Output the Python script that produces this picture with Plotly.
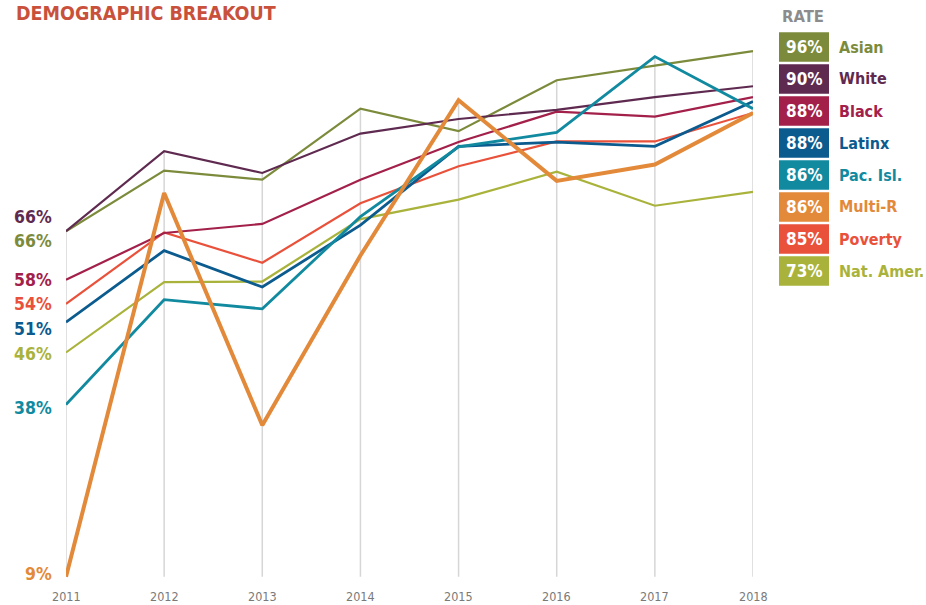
import plotly.graph_objects as go

years = [2011, 2012, 2013, 2014, 2015, 2016, 2017, 2018]

asian = [66, 76.0, 74.5, 86.2, 82.5, 90.9, 93.3, 95.7]
white = [66, 79.2, 75.6, 82.1, 84.5, 86.0, 88.1, 89.9]
black = [58, 65.7, 67.2, 74.5, 80.7, 85.7, 84.9, 88.1]
latinx = [51, 62.8, 56.8, 67.0, 80.0, 80.7, 80.0, 87.4]
pac_isl = [37.4, 54.7, 53.2, 68.4, 79.9, 82.3, 94.8, 86.2]
multi_r = [9, 72.3, 34.0, 62.0, 87.6, 74.3, 77.0, 85.5]
poverty = [54, 65.8, 60.8, 70.6, 76.7, 80.8, 80.8, 85.5]
nat_amer = [46, 57.6, 57.7, 68.0, 71.2, 75.8, 70.2, 72.5]

names = ["Asian", "White", "Black", "Latinx", "Pac. Isl.", "Multi-R", "Poverty", "Nat. Amer."]
series = [asian, white, black, latinx, pac_isl, multi_r, poverty, nat_amer]
rates = ["96%", "90%", "88%", "88%", "86%", "86%", "85%", "73%"]
start_labels = ["66%", "66%", "58%", "51%", "38%", "9%", "54%", "46%"]
colors = ["#7B8B3B", "#5F2A50", "#A3204A", "#0B5B8F", "#118AA0", "#E3893A", "#E9513B", "#A9B33B"]
widths = [2.2, 2.2, 2.2, 2.8, 2.8, 4, 2.2, 2.2]
label_shift = [-10, 14, 0, -7, -3, 3, 0, -2]
draw_order = [7, 6, 2, 0, 1, 3, 4, 5]

COND = "DejaVu Sans Condensed, Liberation Sans Narrow, Arial Narrow, sans-serif"

W, H = 926, 605
L, R, T, B = 66, 173, 25, 16
pw, ph = W - L - R, H - T - B


def px(x, y):
    return (x - L) / pw, (H - B - y) / ph


fig = go.Figure()

# vertical guide lines from 9% up to top value
for i, yr in enumerate(years):
    top = max(s[i] for s in series)
    fig.add_shape(type="line", x0=yr, x1=yr, y0=9, y1=top, xref="x", yref="y",
                  line=dict(color="#D6D6D6", width=1.5), layer="below")

for k in draw_order:
    fig.add_trace(go.Scatter(x=years, y=series[k], mode="lines", name=names[k],
                             line=dict(color=colors[k], width=widths[k]),
                             showlegend=False, hoverinfo="skip"))

ann = []
# start labels
for k in range(len(series)):
    ann.append(dict(x=years[0], y=series[k][0], xref="x", yref="y", text="<b>" + start_labels[k] + "</b>",
                    showarrow=False, xanchor="right", yanchor="middle", xshift=-12,
                    yshift=label_shift[k],
                    font=dict(family=COND, size=17.5, color=colors[k])))

# year labels
for yr in years:
    ann.append(dict(x=yr, y=0, xref="x", yref="paper", text=str(yr), showarrow=False,
                    xanchor="center", yanchor="top", yshift=2,
                    font=dict(family=COND, size=12.5, color="#7A7A7A")))

# title
tx, ty = px(14, 13)
ann.append(dict(x=tx, y=ty, xref="paper", yref="paper", text="<b>DEMOGRAPHIC BREAKOUT</b>",
                showarrow=False, xanchor="left", yanchor="middle",
                font=dict(family=COND, size=19.5, color="#C9513B")))

# RATE header
rx, ry = px(803, 17)
ann.append(dict(x=rx, y=ry, xref="paper", yref="paper", text="<b>RATE</b>", showarrow=False,
                xanchor="center", yanchor="middle",
                font=dict(family=COND, size=16.5, color="#8C8C8C")))

shapes = []
for k in range(len(names)):
    cy = 47 + 32 * k
    x0, y0 = px(779, cy - 14.7)
    x1, y1 = px(829, cy + 14.7)
    shapes.append(dict(type="rect", xref="paper", yref="paper", x0=x0, x1=x1, y0=y1, y1=y0,
                       fillcolor=colors[k], line=dict(width=0)))
    bx, by = px(804, cy)
    ann.append(dict(x=bx, y=by, xref="paper", yref="paper", text="<b>" + rates[k] + "</b>",
                    showarrow=False, xanchor="center", yanchor="middle",
                    font=dict(family=COND, size=17, color="white")))
    lx, ly = px(837, cy)
    ann.append(dict(x=lx, y=ly, xref="paper", yref="paper", text="<b>" + names[k] + "</b>",
                    showarrow=False, xanchor="left", yanchor="middle",
                    font=dict(family=COND, size=16, color=colors[k])))

for s in shapes:
    fig.add_shape(**s)

fig.update_layout(
    width=W, height=H,
    margin=dict(l=L, r=R, t=T, b=B, pad=0),
    paper_bgcolor="white", plot_bgcolor="white",
    xaxis=dict(range=[2011, 2018], visible=False, fixedrange=True),
    yaxis=dict(range=[7, 100], visible=False, fixedrange=True),
    annotations=ann,
    showlegend=False,
)

fig.write_html("out.html", config={"displayModeBar": False},
               post_script="document.body.style.margin='0';document.body.style.padding='0';")
